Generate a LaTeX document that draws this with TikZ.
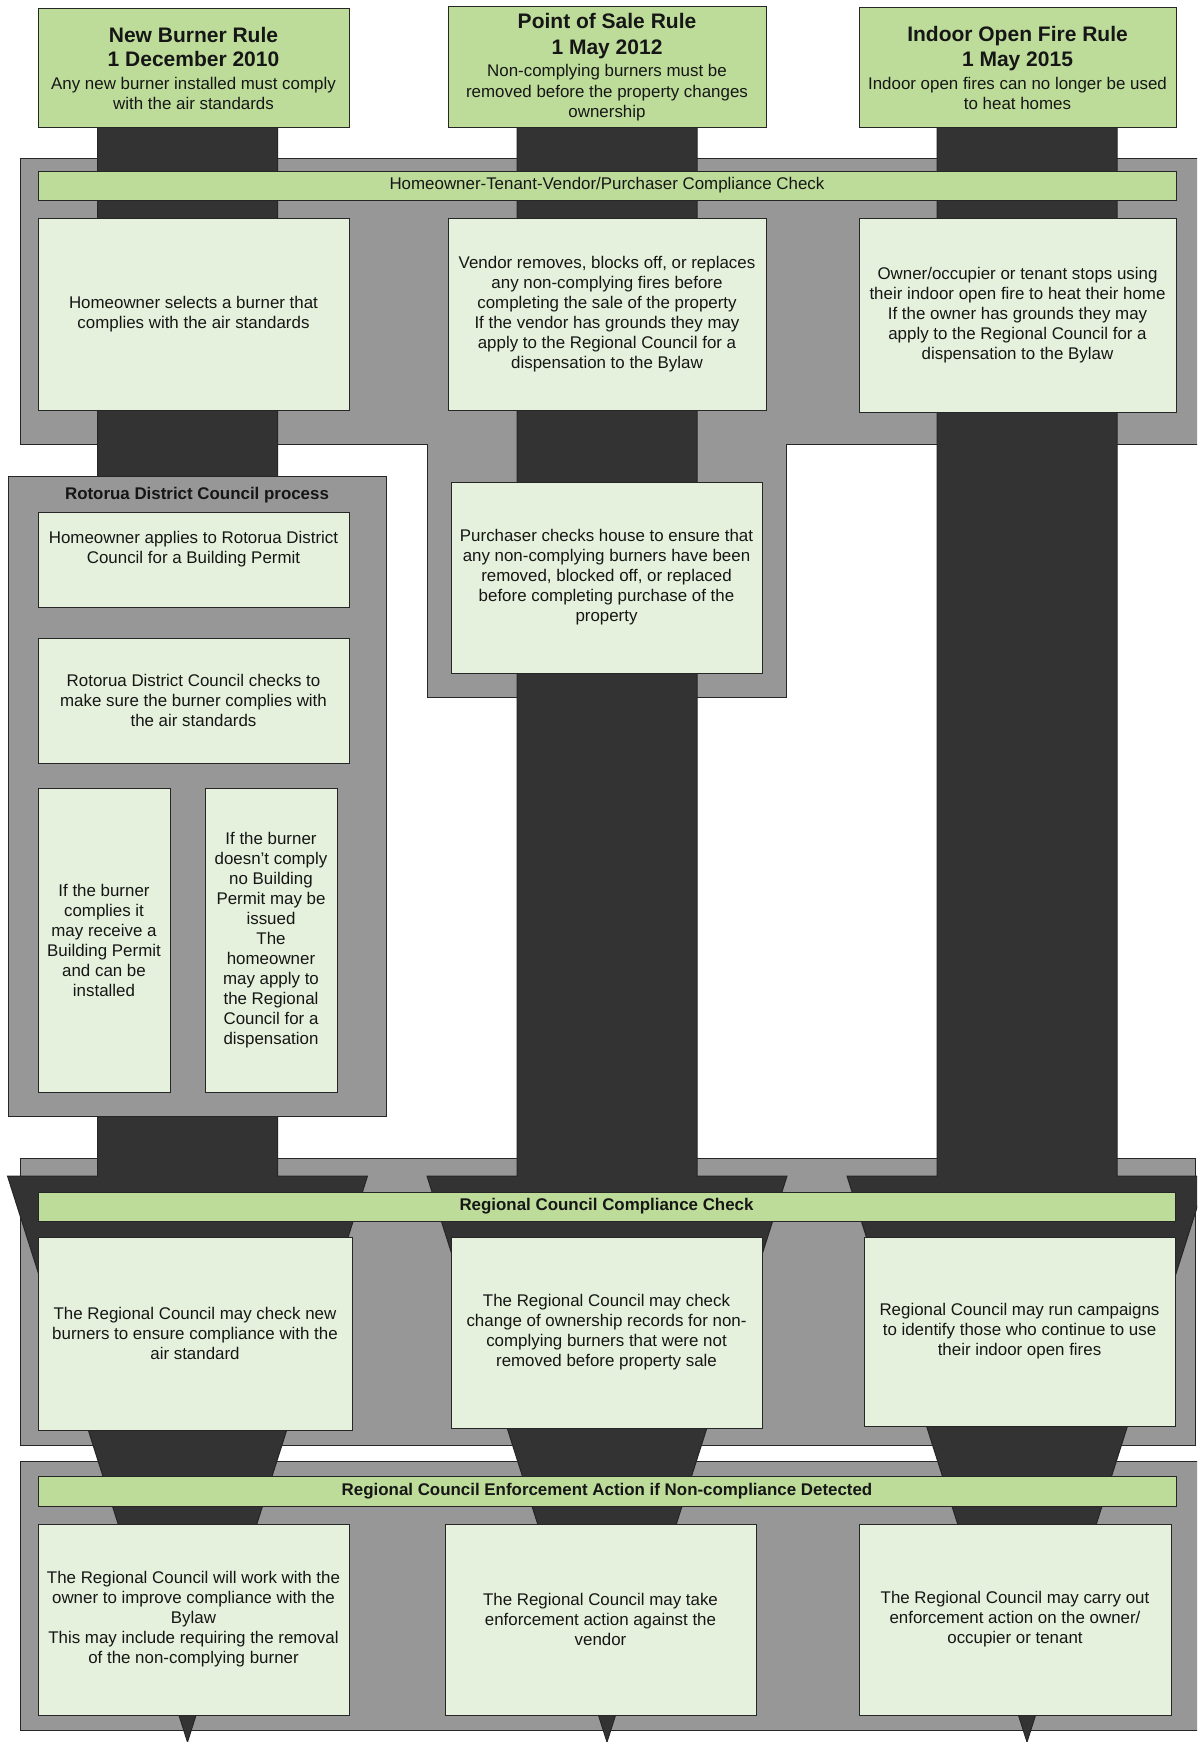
\documentclass[tikz,border=0pt]{standalone}
\usepackage{fontspec}
\setmainfont{Liberation Sans}
\definecolor{grn}{RGB}{189,220,154}
\definecolor{lgt}{RGB}{229,241,220}
\definecolor{pnl}{RGB}{151,151,151}
\definecolor{drk}{RGB}{51,51,51}
\definecolor{edge}{RGB}{38,38,38}
\definecolor{txt}{RGB}{22,22,22}
\newcommand\bodyfnt{\fontsize{16.9}{20}\selectfont}
\newcommand\ttlfnt{\bfseries\fontsize{21}{24.5}\selectfont}
\newcommand\mybox[7]{%
  \pgfmathsetmacro\myw{#5-#3}\pgfmathsetmacro\myh{#6-#4}%
  \node[#2,minimum width=\myw pt,minimum height=\myh pt] (#1) at ({(#3+#5)/2},{(#4+#6)/2}) {#7};}
\newcommand\darkcol[1]{%
  \filldraw[dark] ({#1-90},120) -- ({#1-90},1176) -- ({#1-180},1176) -- (#1,1742)
    -- ({#1+180},1176) -- ({#1+90},1176) -- ({#1+90},120) -- cycle;}
\begin{document}
\begin{tikzpicture}[x=1pt,y=-1pt,
  panel/.style={fill=pnl,draw=edge,line width=1pt},
  dark/.style={fill=drk,draw=edge,line width=1pt},
  rulebox/.style={fill=grn,draw=edge,line width=1pt,inner sep=0pt,align=center,text=txt,font=\bodyfnt},
  band/.style={fill=grn,draw=edge,line width=1pt,inner sep=0pt,align=center,text=txt,font=\bodyfnt},
  stepbox/.style={fill=lgt,draw=edge,line width=1pt,inner sep=0pt,align=center,text=txt,font=\bodyfnt},
  lbl/.style={inner sep=0pt,align=center,text=txt,font=\bodyfnt}]
\clip (0,0) rectangle (1197,1742);
\fill[white] (0,0) rectangle (1197,1742);
% gray panels
\filldraw[panel] (20,158) -- (1210,158) -- (1210,444) -- (786,444) -- (786,697) -- (427,697) -- (427,444) -- (20,444) -- cycle;
\filldraw[panel] (20,1158) rectangle (1195,1445);
\filldraw[panel] (20,1461) rectangle (1210,1730);
% dark flow shapes
\darkcol{187.5}
\darkcol{607}
\darkcol{1027}
% Rotorua panel
\filldraw[panel] (8,476) rectangle (386,1116);
\node[lbl,font=\bodyfnt\bfseries] (rdc) at (197,495) {Rotorua District Council process};
% top rule boxes
\mybox{ruleA}{rulebox}{38}{9}{349}{128}{{\ttlfnt New Burner Rule}\\[4.5pt]{\ttlfnt 1 December 2010}\\[3pt]Any new burner installed must comply\\with the air standards}
\mybox{ruleB}{rulebox}{448}{7}{766}{128}{{\ttlfnt Point of Sale Rule}\\[6pt]{\ttlfnt 1 May 2012}\\[2pt]Non-complying burners must be\\[1pt]removed before the property changes\\ownership}
\mybox{ruleC}{rulebox}{859}{8}{1176}{128}{{\ttlfnt Indoor Open Fire Rule}\\[4.5pt]{\ttlfnt 1 May 2015}\\[3pt]Indoor open fires can no longer be used\\to heat homes}
% band 1
\mybox{band1}{band}{38}{171}{1176}{200}{Homeowner-Tenant-Vendor/Purchaser Compliance Check}
\mybox{a1}{stepbox}{38}{218}{349}{410}{Homeowner selects a burner that\\complies with the air standards}
\mybox{b1}{stepbox}{448}{218}{766}{410}{Vendor removes, blocks off, or replaces\\any non-complying fires before\\completing the sale of the property\\If the vendor has grounds they may\\apply to the Regional Council for a\\dispensation to the Bylaw}
\mybox{c1}{stepbox}{859}{218}{1176}{412}{Owner/occupier or tenant stops using\\their indoor open fire to heat their home\\If the owner has grounds they may\\apply to the Regional Council for a\\dispensation to the Bylaw}
% Rotorua boxes
\mybox{r1}{stepbox}{38}{512}{349}{607}{}
\node[lbl] (r1t) at (193.5,549) {Homeowner applies to Rotorua District\\Council for a Building Permit};
\mybox{r2}{stepbox}{38}{638}{349}{763}{Rotorua District Council checks to\\make sure the burner complies with\\the air standards}
\mybox{r3}{stepbox}{38}{788}{170}{1092}{If the burner\\complies it\\may receive a\\Building Permit\\and can be\\installed}
\mybox{r4}{stepbox}{205}{788}{337}{1092}{If the burner\\doesn’t comply\\no Building\\Permit may be\\issued\\The\\homeowner\\may apply to\\the Regional\\Council for a\\dispensation}
% purchaser
\mybox{p1}{stepbox}{451}{482}{762}{673}{Purchaser checks house to ensure that\\any non-complying burners have been\\removed, blocked off, or replaced\\before completing purchase of the\\property}
% band 2
\mybox{band2}{band}{38}{1192}{1175}{1221}{\bfseries Regional Council Compliance Check}
\mybox{d1}{stepbox}{38}{1237}{352}{1430}{The Regional Council may check new\\burners to ensure compliance with the\\air standard}
\mybox{d2}{stepbox}{451}{1237}{762}{1428}{The Regional Council may check\\change of ownership records for non-\\complying burners that were not\\removed before property sale}
\mybox{d3}{stepbox}{864}{1237}{1175}{1426}{Regional Council may run campaigns\\to identify those who continue to use\\their indoor open fires}
% band 3
\mybox{band3}{band}{38}{1476}{1176}{1506}{\bfseries Regional Council Enforcement Action if Non-compliance Detected}
\mybox{e1}{stepbox}{38}{1524}{349}{1715}{The Regional Council will work with the\\owner to improve compliance with the\\Bylaw\\This may include requiring the removal\\of the non-complying burner}
\mybox{e2}{stepbox}{445}{1524}{756}{1715}{The Regional Council may take\\enforcement action against the\\vendor}
\mybox{e3}{stepbox}{859}{1524}{1171}{1715}{The Regional Council may carry out\\enforcement action on the owner/\\occupier or tenant}
\end{tikzpicture}
\end{document}
